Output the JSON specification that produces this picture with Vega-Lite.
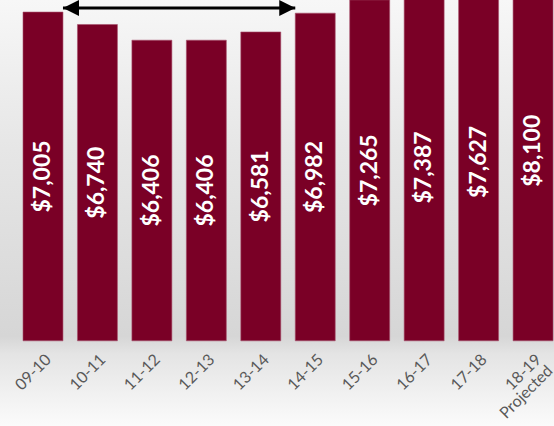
{
  "$schema": "https://vega.github.io/schema/vega-lite/v6.json",
  "width": 554,
  "height": 426,
  "autosize": {"type": "none"},
  "padding": 0,
  "background": "#eeeeee",
  "config": {
    "view": {
      "stroke": null,
      "fill": {
        "gradient": "linear",
        "x1": 0, "y1": 0, "x2": 0, "y2": 1,
        "stops": [
          {"offset": 0, "color": "#f7f7f7"},
          {"offset": 0.35, "color": "#e6e6e6"},
          {"offset": 0.79, "color": "#d6d6d6"},
          {"offset": 0.83, "color": "#e4e4e4"},
          {"offset": 1, "color": "#fbfbfb"}
        ]
      }
    }
  },
  "datasets": {
    "costs": [
      {"year": "09-10", "cost": 7005},
      {"year": "10-11", "cost": 6740},
      {"year": "11-12", "cost": 6406},
      {"year": "12-13", "cost": 6406},
      {"year": "13-14", "cost": 6581},
      {"year": "14-15", "cost": 6982},
      {"year": "15-16", "cost": 7265},
      {"year": "16-17", "cost": 7387},
      {"year": "17-18", "cost": 7627},
      {"year": "18-19 Projected", "cost": 8100}
    ],
    "arrow": [
      {"from": "09-10", "to": "14-15", "level": 7091}
    ]
  },
  "layer": [
    {
      "data": {"name": "costs"},
      "mark": {"type": "bar", "fill": "#7a0026", "stroke": "#a8506c", "strokeWidth": 0.6, "clip": true},
      "encoding": {
        "x": {
          "field": "year", "type": "nominal", "sort": null,
          "scale": {
            "domain": ["09-10", "10-11", "11-12", "12-13", "13-14", "14-15", "15-16", "16-17", "17-18", "18-19 Projected"],
            "paddingInner": 0.266, "paddingOuter": 0.22, "align": 0.96
          },
          "axis": {
            "title": null, "orient": "bottom", "offset": -86,
            "domain": false, "ticks": false,
            "labelAngle": -45, "labelFont": "Lato", "labelFontSize": 16,
            "labelColor": "#595959", "labelPadding": 11, "labelLineHeight": 16,
            "labelExpr": "split(datum.label, ' ')"
          }
        },
        "y": {
          "field": "cost", "type": "quantitative",
          "scale": {"domain": [-1815, 7262], "nice": false, "zero": false},
          "axis": null
        }
      }
    },
    {
      "data": {"name": "costs"},
      "mark": {"type": "text", "angle": 270, "color": "#ffffff", "font": "Lato", "fontWeight": "bold", "fontSize": 23, "align": "center", "baseline": "middle"},
      "encoding": {
        "x": {"field": "year", "type": "nominal", "sort": null},
        "y": {
          "field": "cost", "type": "quantitative",
          "scale": {"domain": [-3630, 14524], "nice": false, "zero": false},
          "axis": null
        },
        "text": {"field": "cost", "type": "quantitative", "format": "$,.0f"}
      }
    },
    {
      "data": {"name": "arrow"},
      "mark": {"type": "rule", "color": "#000000", "strokeWidth": 3},
      "encoding": {
        "x": {"field": "from", "type": "nominal", "bandPosition": 1},
        "x2": {"field": "to", "bandPosition": 0},
        "y": {
          "field": "level", "type": "quantitative",
          "scale": {"domain": [-1815, 7262], "nice": false, "zero": false},
          "axis": null
        }
      }
    },
    {
      "data": {"name": "arrow"},
      "mark": {"type": "point", "shape": "M0,0L2,-1L2,1Z", "filled": true, "color": "#000000", "opacity": 1, "size": 256},
      "encoding": {
        "x": {"field": "from", "type": "nominal", "bandPosition": 1},
        "y": {
          "field": "level", "type": "quantitative",
          "scale": {"domain": [-1815, 7262], "nice": false, "zero": false},
          "axis": null
        }
      }
    },
    {
      "data": {"name": "arrow"},
      "mark": {"type": "point", "shape": "M0,0L-2,-1L-2,1Z", "filled": true, "color": "#000000", "opacity": 1, "size": 256},
      "encoding": {
        "x": {"field": "to", "type": "nominal", "bandPosition": 0},
        "y": {
          "field": "level", "type": "quantitative",
          "scale": {"domain": [-1815, 7262], "nice": false, "zero": false},
          "axis": null
        }
      }
    }
  ],
  "resolve": {"scale": {"y": "independent"}}
}
